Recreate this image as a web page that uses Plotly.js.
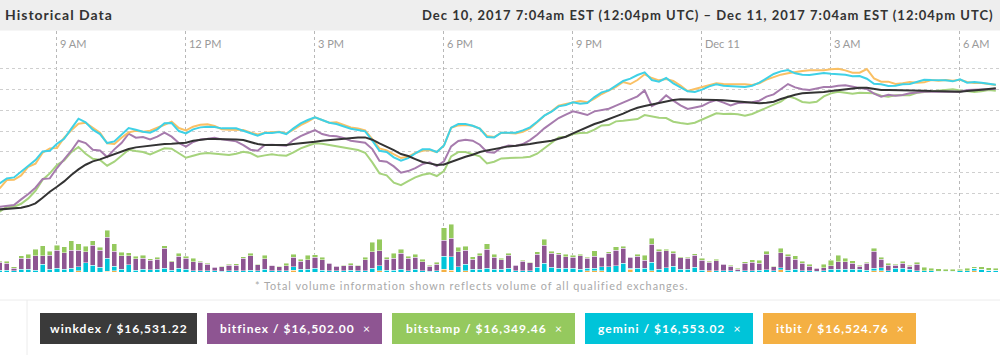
<!DOCTYPE html>
<html>
<head>
<meta charset="utf-8">
<script src="https://cdn.plot.ly/plotly-3.0.1.min.js"></script>
<style>
html,body{margin:0;padding:0;background:#fff;}
#chart{width:1000px;height:355px;}
.annotation-text, .gtitle{letter-spacing:1px;}
</style>
</head>
<body>
<div id="chart"></div>
<script>
// ---- data (10-minute samples starting Dec 10, 2017 7:40 AM) ----
const startTime = '2017-12-10 07:40';
const stepMs = 600000;

const tickTimes = ['2017-12-10 09:00','2017-12-10 12:00','2017-12-10 15:00','2017-12-10 18:00',
                   '2017-12-10 21:00','2017-12-11 00:00','2017-12-11 03:00','2017-12-11 06:00'];
const tickLabels = ['9 AM','12 PM','3 PM','6 PM','9 PM','Dec 11','3 AM','6 AM'];
const priceGrid = [13500,14000,14500,15000,15500,16000,16500,17000];

const winkdex = [13611,13619,13635,13651,13691,13756,13892,14037,14158,14287,
14440,14577,14689,14770,14818,14883,14947,15011,15068,15108,
15132,15156,15172,15188,15196,15205,15221,15269,15293,15309,
15309,15309,15301,15301,15285,15229,15188,15164,15164,15164,
15164,15188,15213,15229,15245,15269,15285,15309,15333,15349,
15349,15349,15293,15205,15132,15044,14947,14899,14826,14754,
14722,14681,14697,14762,14826,14883,14931,14995,15035,15068,
15100,15132,15148,15164,15188,15221,15245,15269,15317,15366,
15446,15518,15607,15671,15728,15792,15849,15921,16001,16066,
16106,16146,16187,16219,16251,16267,16267,16267,16267,16259,
16251,16243,16227,16211,16203,16195,16171,16187,16211,16275,
16332,16380,16412,16420,16428,16444,16468,16492,16517,16541,
16549,16549,16517,16492,16492,16492,16492,16484,16484,16476,
16468,16460,16452,16452,16452,16468,16476,16501,16517,16533];

const bitfinex = [13675,13699,13715,13852,13981,14134,14343,14359,14609,14818,
15027,15269,15213,15052,15035,14874,15060,15213,15438,15341,
15357,15301,15366,15462,15366,15213,15124,15237,15301,15317,
15341,15301,15285,15253,15164,15052,15027,15164,15172,15164,
15148,15285,15382,15454,15527,15430,15390,15374,15333,15269,
15237,15221,15068,14786,14762,14649,14496,14536,14609,14705,
14746,14657,14770,15132,15261,15293,15269,15172,14995,14979,
15100,15156,15140,15188,15285,15414,15567,15688,15816,15897,
15977,15937,15889,15977,16010,16042,16114,16187,16275,16340,
16484,16106,16195,16364,16235,16122,16034,16066,16106,16195,
16251,16187,16122,16179,16187,16195,16235,16332,16388,16517,
16637,16557,16509,16492,16525,16565,16565,16597,16605,16565,
16541,16517,16404,16332,16380,16356,16372,16412,16436,16452,
16452,16452,16468,16468,16452,16492,16492,16501,16509,16525];

const bitstamp = [13554,13675,13675,13747,13876,14061,14327,14480,14681,14794,
14995,15116,14955,14834,14802,14665,14762,14915,15052,15019,
14995,14939,15003,15084,15076,14971,14858,14907,14955,14971,
14955,14923,14923,14955,15003,14971,14883,14915,14939,14915,
14907,14987,15084,15148,15205,15196,15164,15132,15116,15068,
15044,14979,14746,14480,14432,14255,14198,14295,14383,14448,
14480,14416,14536,14891,14995,14995,14947,14891,14722,14762,
14842,14858,14858,14866,14883,14955,15084,15213,15349,15366,
15430,15454,15462,15535,15639,15647,15736,15752,15768,15792,
15889,15849,15824,15816,15728,15696,15671,15704,15776,15857,
15929,15913,15921,15905,15873,15913,15993,16066,16138,16211,
16340,16291,16203,16187,16211,16340,16412,16452,16428,16404,
16428,16428,16412,16356,16332,16364,16356,16364,16428,16444,
16452,16460,16492,16509,16484,16460,16444,16460,16492,16476];

const gemini = [14238,14359,14383,14520,14649,14802,15011,15027,15196,15317,
15559,15800,15712,15535,15430,15213,15253,15422,15575,15535,
15486,15462,15543,15688,15696,15502,15446,15543,15591,15607,
15599,15567,15567,15567,15510,15454,15390,15454,15454,15478,
15430,15567,15688,15768,15832,15768,15704,15671,15615,15559,
15527,15494,15269,15027,14995,14866,14786,14850,14963,15060,
15060,14995,15156,15583,15671,15671,15631,15559,15357,15349,
15462,15470,15462,15518,15591,15728,15873,15969,16098,16130,
16195,16162,16179,16323,16436,16484,16597,16710,16766,16855,
16919,16734,16694,16782,16654,16549,16460,16444,16501,16581,
16629,16597,16581,16573,16565,16597,16670,16774,16879,16943,
16976,16895,16863,16855,16871,16903,16887,16871,16863,16823,
16831,16766,16645,16629,16589,16597,16629,16637,16694,16742,
16734,16734,16726,16702,16750,16670,16686,16670,16645,16621];

const itbit = [14118,14319,14327,14432,14641,14713,14979,15084,15092,15341,
15518,15679,15704,15575,15462,15205,15188,15341,15470,15510,
15486,15510,15575,15655,15728,15575,15518,15607,15655,15663,
15623,15543,15535,15535,15527,15470,15422,15462,15470,15486,
15446,15535,15647,15728,15832,15776,15704,15712,15655,15591,
15567,15518,15309,15084,15035,14939,14850,14883,14971,15027,
15044,14995,15156,15583,15639,15647,15631,15559,15382,15357,
15462,15454,15446,15486,15567,15712,15873,15977,16114,16154,
16187,16227,16195,16283,16396,16476,16565,16686,16637,16734,
16871,16782,16726,16758,16710,16597,16468,16517,16557,16605,
16654,16637,16637,16645,16629,16613,16654,16742,16798,16863,
16895,16927,16951,16967,16967,16967,16992,17008,16967,16911,
16911,17000,16774,16694,16694,16637,16654,16686,16670,16678,
16734,16718,16734,16718,16742,16686,16662,16662,16637,16613];

// volumes (relative units)
const volItbit = [0,0,0,0,0,0,0,0,0,0, 0,4,0,0,0,3,4,0,0,0, 0,0,0,0,0,0,0,0,0,0, 0,0,0,0,0,0,0,0,0,0,
0,6,0,0,0,0,0,0,0,0, 0,0,0,4,0,0,0,0,0,0, 0,0,8,6,0,4,0,0,0,0, 0,0,0,0,0,0,0,0,0,0,
0,0,4,4,4,0,0,0,8,0, 0,4,0,0,0,0,0,0,0,4, 0,0,0,0,0,0,0,0,0,7, 0,0,0,0,0,0,0,0,0,0,
0,0,4,4,0,0,0,0,0,0, 0,0,0,0,0,0,4,0,0,0];
const volGemini = [6,6,4,8,8,6,23,9,11,9, 11,12,28,21,14,39,14,8,22,6, 8,7,9,12,6,12,8,4,4,4, 4,3,4,4,4,6,4,9,4,4,
4,10,9,9,12,6,4,4,4,6, 4,4,12,15,6,6,9,4,8,4, 3,4,40,40,16,19,9,9,11,9, 9,11,4,4,4,14,26,14,11,11,
11,8,7,7,12,16,19,26,3,11, 11,25,9,13,18,9,9,15,6,0, 4,4,4,3,4,4,6,7,4,6, 6,8,4,4,3,4,8,9,8,9,
9,6,7,9,4,11,11,8,4,4, 4,3,3,3,4,4,7,8,6,6];
const volBitfinex = [23,20,7,33,33,43,26,42,55,49, 55,50,33,60,52,63,45,41,27,34, 33,28,29,59,25,36,33,27,25,19, 10,13,17,17,37,43,18,31,16,12,
15,28,24,28,32,31,22,14,15,15, 15,33,49,45,32,35,47,37,37,27, 14,20,48,55,45,43,30,40,58,35, 28,40,17,29,24,39,55,43,42,35,
33,41,30,37,28,40,47,45,33,37, 25,55,54,51,38,34,32,35,30,26, 30,20,14,6,23,25,20,47,12,45, 41,30,22,14,9,9,11,22,23,17,
9,20,52,25,17,10,15,10,19,0, 0,0,0,0,0,0,0,0,0,0];
const volBitstamp = [4,6,5,8,12,20,30,12,15,18, 28,19,17,13,9,20,22,10,9,7, 9,5,7,8,3,8,6,10,4,3, 2,1,3,4,5,7,2,10,1,2,
7,9,6,13,8,8,2,1,2,5, 2,7,28,34,7,16,13,6,8,8, 4,5,37,43,14,12,7,7,16,9, 4,5,1,3,1,8,17,6,5,7,
7,4,3,16,2,5,10,7,2,5, 15,17,6,5,7,3,3,5,6,3, 4,1,2,2,4,8,10,9,2,13, 6,11,7,5,1,10,17,20,10,8,
3,3,8,6,5,3,7,3,6,10, 7,7,5,5,5,7,5,8,7,5];

const legendLabels = ['winkdex / $16,531.22','bitfinex / $16,502.00','bitstamp / $16,349.46','gemini / $16,553.02','itbit / $16,524.76'];

// ---- styling ----
const C = {winkdex:'#3a3a3a', bitfinex:'#8e5592', bitstamp:'#95c95e', gemini:'#00c4d9', itbit:'#f4b043'};
const LINE = {winkdex:'#333333', bitfinex:'#a67bad', bitstamp:'#a6d37d', gemini:'#3fd1e6', itbit:'#fac064'};
const FONT = 'Lato, "Open Sans", sans-serif';

function lineTrace(name, y, color, width){
  return {type:'scatter', mode:'lines', name, x0:startTime, dx:stepMs, y,
    xaxis:'x', yaxis:'y', line:{color, width, shape:'linear'}, hoverinfo:'skip'};
}
function barTrace(name, y, color){
  return {type:'bar', name, x0:startTime, dx:stepMs, y, xaxis:'x', yaxis:'y2',
    marker:{color, line:{color:'rgba(255,255,255,0.55)', width:0.8}}, hoverinfo:'skip'};
}

const traces = [
  barTrace('itbit vol', volItbit, C.itbit),
  barTrace('gemini vol', volGemini, C.gemini),
  barTrace('bitfinex vol', volBitfinex, C.bitfinex),
  barTrace('bitstamp vol', volBitstamp, C.bitstamp),
  lineTrace('bitstamp', bitstamp, LINE.bitstamp, 2),
  lineTrace('bitfinex', bitfinex, LINE.bitfinex, 2),
  lineTrace('itbit', itbit, LINE.itbit, 2),
  lineTrace('gemini', gemini, LINE.gemini, 2),
  lineTrace('winkdex', winkdex, LINE.winkdex, 2)
];

const W = 1000, H = 355, T = 31, B = 83;
const PH = H - T - B;
const py = px => (H - B - px) / PH;   // pixel row -> paper y
const pxX = px => px / W;

const shapes = [
  {type:'rect', xref:'paper', yref:'paper', x0:0, x1:1, y0:py(30.5), y1:py(0), fillcolor:'#eeeeee', line:{width:0}, layer:'below'},
  {type:'line', xref:'paper', yref:'paper', x0:0, x1:1, y0:py(300), y1:py(300), line:{color:'#ececec', width:1}},
  {type:'line', xref:'paper', yref:'paper', x0:pxX(27), x1:pxX(27), y0:py(300), y1:py(355), line:{color:'#ececec', width:1}}
];
const boxes = [[40,197,C.winkdex],[207,382,C.bitfinex],[392,575,C.bitstamp],[585,753,C.gemini],[763,916,C.itbit]];
const annotations = [
  {xref:'paper', yref:'paper', x:pxX(996), y:py(15), xanchor:'right', yanchor:'middle', showarrow:false,
   text:'<b>Dec 10, 2017 7:04am EST (12:04pm UTC) – Dec 11, 2017 7:04am EST (12:04pm UTC)</b>',
   font:{family:FONT, size:13, color:'#333'}},
  {xref:'paper', yref:'paper', x:pxX(471), y:py(285), xanchor:'center', yanchor:'middle', showarrow:false,
   text:'* Total volume information shown reflects volume of all qualified exchanges.',
   font:{family:FONT, size:10.8, color:'#a8a8a8'}}
];
boxes.forEach((b,k)=>{
  shapes.push({type:'rect', xref:'paper', yref:'paper', x0:pxX(b[0]), x1:pxX(b[1]), y0:py(344), y1:py(313),
    fillcolor:b[2], line:{width:0}});
  annotations.push({xref:'paper', yref:'paper', x:pxX((b[0]+b[1])/2 + 0.5), y:py(328.5), xanchor:'center', yanchor:'middle',
    showarrow:false, text:'<b>'+legendLabels[k]+'</b>' + (k>0 ? '  ×' : ''),
    font:{family:FONT, size:12, color:'#ffffff'}});
});

const layout = {
  width:W, height:H, margin:{l:0, r:0, t:T, b:B, pad:0},
  paper_bgcolor:'#ffffff', plot_bgcolor:'#ffffff',
  showlegend:false, barmode:'stack', bargap:0.27,
  title:{text:'<b>Historical Data</b>', x:pxX(5), xanchor:'left', xref:'paper',
         y:1-15/H, yref:'container', yanchor:'middle', font:{family:FONT, size:14, color:'#333'}},
  xaxis:{type:'date', side:'top', range:['2017-12-10 07:40:30','2017-12-11 06:55:50'],
         tickvals:tickTimes, ticktext:tickLabels, ticks:'', ticklabelposition:'inside right',
         ticklabelshift:3, ticklabelstandoff:3,
         tickfont:{family:FONT, size:11, color:'#9a9a9a'},
         showgrid:true, gridcolor:'#b8b8b8', griddash:'dot', gridwidth:1,
         showline:false, zeroline:false, fixedrange:true},
  yaxis:{range:[12100,17917], tickvals:priceGrid, showticklabels:false, ticks:'',
         showgrid:true, gridcolor:'#cfcfcf', griddash:'dot', gridwidth:1, zeroline:false, showline:false},
  yaxis2:{overlaying:'y', range:[0,723], visible:false, showgrid:false, zeroline:false},
  shapes, annotations
};

Plotly.newPlot('chart', traces, layout, {displayModeBar:false, staticPlot:true});
</script>
</body>
</html>
